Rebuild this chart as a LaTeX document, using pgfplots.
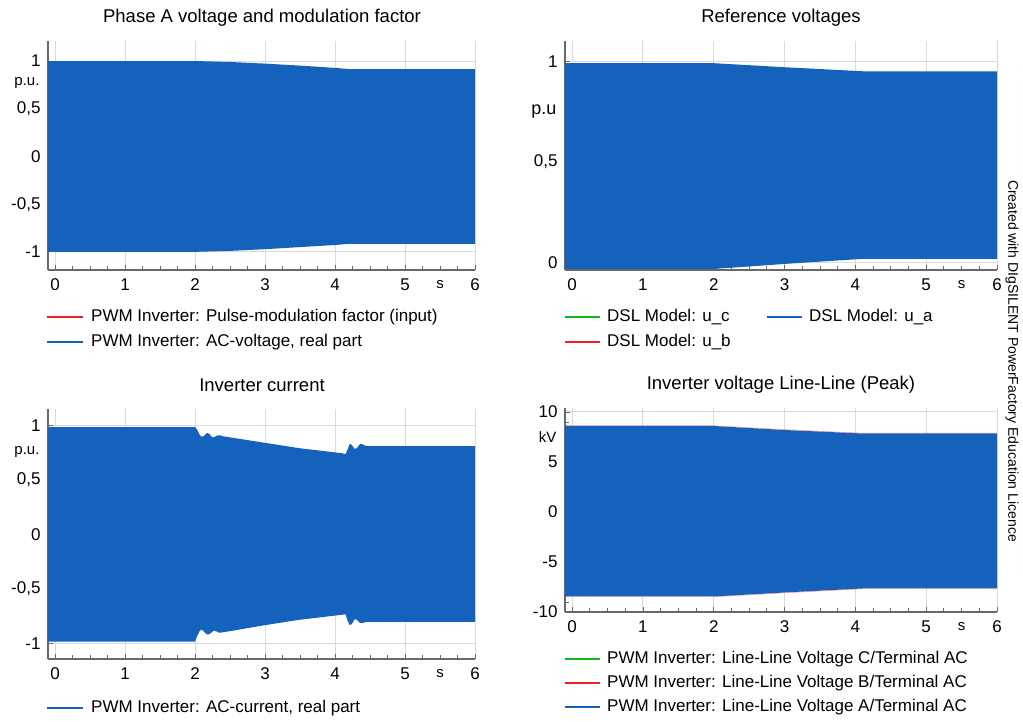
\documentclass[border=0pt]{standalone}
\usepackage{fontspec}
\setmainfont{Liberation Sans}
\usepackage{pgfplots}
\usepackage{pgfplotstable}
\pgfplotsset{compat=1.18}
\usepgfplotslibrary{fillbetween}

\definecolor{pfblue}{RGB}{21,98,189}
\definecolor{pfred}{RGB}{235,30,35}
\definecolor{pfgreen}{RGB}{20,180,20}
\definecolor{gridgray}{RGB}{218,218,218}
\definecolor{axisgray}{RGB}{105,105,105}

% envelopes of the oscillating signals (upper / lower peak values)
\pgfplotstableread{
t    up     lo
-0.1 1.000 -1.000
2.0  1.000 -1.000
2.5  0.990 -0.990
3.0  0.973 -0.972
3.5  0.952 -0.950
4.0  0.928 -0.928
4.2  0.916 -0.916
6.0  0.916 -0.916
}\phaseA

\pgfplotstableread{
t    up     lo
-0.1 0.990 -0.030
2.0  0.990 -0.030
3.0  0.970 -0.005
4.1  0.950  0.020
6.0  0.950  0.020
}\refvolt

\pgfplotstableread{
t    up     lo
-0.1 0.985 -0.980
2.00 0.985 -0.980
2.03 0.960 -0.930
2.07 0.910 -0.880
2.10 0.895 -0.870
2.13 0.905 -0.890
2.17 0.930 -0.915
2.20 0.925 -0.915
2.24 0.895 -0.895
2.27 0.890 -0.880
2.31 0.905 -0.888
2.35 0.910 -0.900
2.40 0.900 -0.895
2.50 0.890 -0.885
3.00 0.840 -0.830
3.50 0.790 -0.780
4.10 0.745 -0.735
4.15 0.735 -0.730
4.18 0.780 -0.790
4.21 0.830 -0.830
4.24 0.820 -0.820
4.28 0.785 -0.775
4.31 0.790 -0.780
4.36 0.830 -0.810
4.40 0.825 -0.810
4.45 0.810 -0.800
6.00 0.810 -0.800
}\invcurr

\pgfplotstableread{
t    up    lo     upB   loB
-0.1 8.60 -8.45   8.63  -8.48
2.0  8.60 -8.45   8.63  -8.48
3.0  8.20 -8.05   8.24  -8.09
4.1  7.85 -7.65   7.88  -7.68
6.0  7.85 -7.65   7.88  -7.68
}\llvolt

\newcommand{\tickfont}{\fontsize{17}{20}\selectfont}
\newcommand{\unitfont}{\fontsize{15}{18}\selectfont}
\newcommand{\titlefont}{\fontsize{18.5}{22}\selectfont}
\newcommand{\legfont}{\fontsize{17}{20}\selectfont}

\pgfplotsset{
  pfaxis/.style={
    scale only axis,
    anchor=south west,
    clip=false,
    axis x line=bottom, axis y line=left,
    axis line style={axisgray, line width=1.2pt, -},
    xmin=-0.1, xmax=6,
    xtick={0,...,6},
    minor x tick num=3,
    grid=major,
    major grid style={gridgray, line width=1pt},
    tick align=inside,
    major tick length=5pt, minor tick length=4pt,
    tick style={axisgray, line width=0.8pt},
    /pgf/number format/assume math mode=true,
    xticklabel style={anchor=center, yshift=-15pt, font=\tickfont},
    yticklabel style={anchor=east, xshift=-4pt, font=\tickfont},
  },
}

\begin{document}
\begin{tikzpicture}[x=1pt,y=1pt]

% ---------- Phase A voltage and modulation factor ----------
\begin{axis}[pfaxis, at={(48pt,452pt)}, width=427pt, height=229pt,
  ymin=-1.19, ymax=1.21,
  ytick={-1,-0.5,0,0.5,1}, yticklabels={-1,{-0,5},0,{0,5},1},
  minor y tick num=3]
  \addplot[draw=none, name path=aU] table[x=t, y=up] {\phaseA};
  \addplot[draw=none, name path=aL] table[x=t, y=lo] {\phaseA};
  \addplot[pfblue, draw=none] fill between[of=aU and aL];
  \node[font=\unitfont, anchor=east, xshift=-5pt] at (axis cs:-0.1,0.77) {p.u.};
  \node[font=\unitfont, yshift=-15pt] at (axis cs:5.5,-1.19) {s};
\end{axis}
\node[font=\titlefont] at (262,704) {Phase A voltage and modulation factor};
\draw[pfred, line width=1.2pt] (47,405) -- (83,405);
\node[font=\legfont, anchor=west, inner sep=0] at (91,405) {PWM Inverter: Pulse-modulation factor (input)};
\draw[pfblue, line width=1.2pt] (47,380) -- (83,380);
\node[font=\legfont, anchor=west, inner sep=0] at (91,380) {PWM Inverter: AC-voltage, real part};

% ---------- Reference voltages ----------
\begin{axis}[pfaxis, at={(565pt,452pt)}, width=432pt, height=229pt,
  ymin=-0.035, ymax=1.10,
  ytick={0,0.5,1}, yticklabels={0,{0,5},1},
  minor y tick num=4]
  \addplot[draw=none, name path=bU] table[x=t, y=up] {\refvolt};
  \addplot[draw=none, name path=bL] table[x=t, y=lo] {\refvolt};
  \addplot[pfblue, draw=none] fill between[of=bU and bL];
  \node[font=\fontsize{18}{21}\selectfont, anchor=east, xshift=-5pt] at (axis cs:-0.1,0.75) {p.u};
  \node[font=\unitfont, yshift=-15pt] at (axis cs:5.5,-0.035) {s};
\end{axis}
\node[font=\titlefont] at (781,704) {Reference voltages};
\draw[pfgreen, line width=1.2pt] (565,405) -- (600,405);
\node[font=\legfont, anchor=west, inner sep=0] at (607,405) {DSL Model: u\_c};
\draw[pfblue, line width=1.2pt] (767,405) -- (802,405);
\node[font=\legfont, anchor=west, inner sep=0] at (809,405) {DSL Model: u\_a};
\draw[pfred, line width=1.2pt] (565,380) -- (600,380);
\node[font=\legfont, anchor=west, inner sep=0] at (607,380) {DSL Model: u\_b};

% ---------- Inverter current ----------
\begin{axis}[pfaxis, at={(48pt,63pt)}, width=427pt, height=250pt,
  ymin=-1.14, ymax=1.15,
  ytick={-1,-0.5,0,0.5,1}, yticklabels={-1,{-0,5},0,{0,5},1},
  minor y tick num=3]
  \addplot[draw=none, name path=cU] table[x=t, y=up] {\invcurr};
  \addplot[draw=none, name path=cL] table[x=t, y=lo] {\invcurr};
  \addplot[pfblue, draw=none] fill between[of=cU and cL];
  \node[font=\unitfont, anchor=east, xshift=-5pt] at (axis cs:-0.1,0.76) {p.u.};
  \node[font=\unitfont, yshift=-15pt] at (axis cs:5.5,-1.14) {s};
\end{axis}
\node[font=\titlefont] at (262,337) {Inverter current};
\draw[pfblue, line width=1.2pt] (47,14) -- (83,14);
\node[font=\legfont, anchor=west, inner sep=0] at (91,14) {PWM Inverter: AC-current, real part};

% ---------- Inverter voltage Line-Line (Peak) ----------
\begin{axis}[pfaxis, at={(565pt,110pt)}, width=432pt, height=204pt,
  ymin=-10, ymax=10.4,
  ytick={-10,-5,0,5,10}, yticklabels={-10,-5,0,5,10},
  minor y tick num=4]
  % phase B peeks out faintly along the edge of phase A
  \addplot[pfred, line width=0.5pt, opacity=0.45] table[x=t, y=upB] {\llvolt};
  \addplot[pfred, line width=0.5pt, opacity=0.45] table[x=t, y=loB] {\llvolt};
  \addplot[draw=none, name path=dU] table[x=t, y=up] {\llvolt};
  \addplot[draw=none, name path=dL] table[x=t, y=lo] {\llvolt};
  \addplot[pfblue, draw=none] fill between[of=dU and dL];
  \node[font=\unitfont, anchor=east, xshift=-5pt] at (axis cs:-0.1,7.5) {kV};
  \node[font=\unitfont, yshift=-15pt] at (axis cs:5.5,-10) {s};
\end{axis}
\node[font=\titlefont] at (781,337) {Inverter voltage Line-Line (Peak)};
\draw[pfgreen, line width=1.2pt] (565,63) -- (600,63);
\node[font=\legfont, anchor=west, inner sep=0] at (607,63) {PWM Inverter: Line-Line Voltage C/Terminal AC};
\draw[pfred, line width=1.2pt] (565,39) -- (600,39);
\node[font=\legfont, anchor=west, inner sep=0] at (607,39) {PWM Inverter: Line-Line Voltage B/Terminal AC};
\draw[pfblue, line width=1.2pt] (565,15) -- (600,15);
\node[font=\legfont, anchor=west, inner sep=0] at (607,15) {PWM Inverter: Line-Line Voltage A/Terminal AC};

% ---------- side note ----------
\node[font=\fontsize{14}{16}\selectfont, rotate=-90] at (1012,361) {Created with DIgSILENT PowerFactory Education Licence};

% page frame
\path (0,0) rectangle (1023,722);
\end{tikzpicture}
\end{document}
